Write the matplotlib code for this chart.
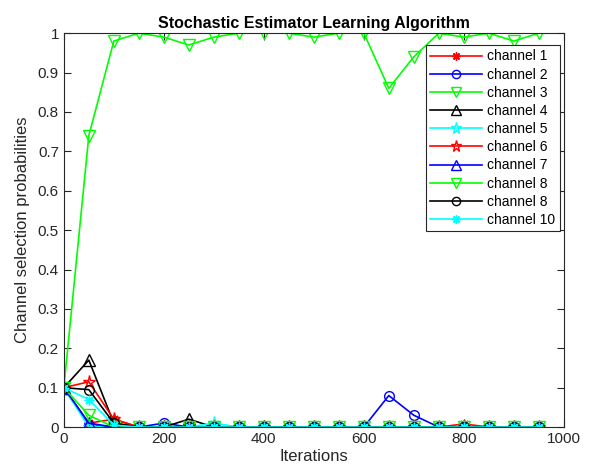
import numpy as np
import matplotlib
matplotlib.use("Agg")
from matplotlib import pyplot as plt

plt.rcParams['font.family'] = ['Liberation Sans', 'DejaVu Sans']

iterations = np.arange(0, 1000, 50)

ch1 = [0.1, 0.01, 0.02, 0, 0, 0, 0, 0, 0, 0, 0, 0, 0, 0, 0, 0, 0.008, 0, 0, 0]
ch2 = [0.1, 0.005, 0, 0, 0.01, 0, 0, 0, 0, 0, 0, 0, 0, 0.08, 0.03, 0, 0, 0, 0, 0]
ch3 = [0.1, 0.74, 0.98, 1.0, 0.99, 0.97, 0.99, 1.0, 1.0, 1.0, 0.99, 1.0, 1.0, 0.86, 0.94, 1.0, 0.99, 1.0, 0.98, 1.0]
ch4 = [0.1, 0.17, 0.01, 0, 0, 0.02, 0, 0, 0, 0, 0, 0, 0, 0, 0, 0, 0, 0, 0, 0]
ch5 = [0.1, 0.0, 0.005, 0, 0, 0, 0.01, 0, 0, 0, 0, 0, 0, 0, 0, 0, 0, 0, 0, 0]
ch6 = [0.1, 0.115, 0.02, 0, 0, 0, 0, 0, 0, 0, 0, 0, 0, 0, 0, 0, 0, 0, 0, 0]
ch7 = [0.1, 0.01, 0, 0, 0, 0, 0, 0, 0, 0, 0, 0, 0, 0, 0, 0, 0, 0, 0, 0]
ch8 = [0.1, 0.03, 0, 0, 0, 0, 0, 0, 0, 0, 0, 0, 0, 0, 0, 0, 0, 0, 0, 0]
ch9 = [0.1, 0.095, 0.01, 0, 0, 0, 0, 0, 0, 0, 0, 0, 0, 0, 0, 0, 0, 0, 0, 0]
ch10 = [0.1, 0.07, 0.005, 0, 0, 0, 0, 0, 0, 0, 0, 0, 0, 0, 0, 0, 0, 0, 0, 0]

labels = ['channel 1', 'channel 2', 'channel 3', 'channel 4', 'channel 5',
          'channel 6', 'channel 7', 'channel 8', 'channel 8', 'channel 10']
series = [ch1, ch2, ch3, ch4, ch5, ch6, ch7, ch8, ch9, ch10]
colors = ['#ff0000', '#0000ff', '#00ff00', '#000000', '#00ffff',
          '#ff0000', '#0000ff', '#00ff00', '#000000', '#00ffff']
# (8, 2, 0) is an eight-armed asterisk
markers = [(8, 2, 0), 'o', 'v', '^', '*', '*', '^', 'v', 'o', (8, 2, 0)]
sizes = [7, 7, 8.5, 8.5, 9.5, 9.5, 8.5, 8.5, 7, 7]

fig = plt.figure(figsize=(5.91, 4.74), dpi=100)
ax = fig.add_axes([0.108, 0.099, 0.846, 0.831])

for y, lab, c, m, s in zip(series, labels, colors, markers, sizes):
    ax.plot(iterations, y, color=c, marker=m, markersize=s, linewidth=1.2,
            markerfacecolor='none', markeredgecolor=c, markeredgewidth=1.0,
            label=lab)

ax.set_xlim(0, 1000)
ax.set_ylim(0, 1)
ax.set_xticks(np.arange(0, 1001, 200))
ax.set_yticks(np.arange(0, 1.01, 0.1))
ax.set_yticklabels(['0', '0.1', '0.2', '0.3', '0.4', '0.5', '0.6', '0.7', '0.8', '0.9', '1'])

axis_grey = '#262626'
for sp in ax.spines.values():
    sp.set_color(axis_grey)
    sp.set_linewidth(0.8)
ax.tick_params(direction='in', top=True, right=True, colors=axis_grey,
               labelsize=11, length=5, width=0.8)
for t in ax.get_xticklabels() + ax.get_yticklabels():
    t.set_color(axis_grey)

ax.set_xlabel('Iterations', fontsize=12, color=axis_grey, labelpad=2)
ax.set_ylabel('Channel selection probabilities', fontsize=12, color=axis_grey, labelpad=6)
ax.set_title('Stochastic Estimator Learning Algorithm', fontsize=11.5,
             fontweight='bold', pad=4)

leg = ax.legend(loc='upper right', bbox_to_anchor=(1.0, 0.98), fontsize=10,
                frameon=True, fancybox=False, framealpha=1, borderpad=0.3,
                handlelength=3.8, handletextpad=0.35, labelspacing=0.3,
                borderaxespad=0.3, markerscale=0.85)
leg.get_frame().set_edgecolor(axis_grey)
leg.get_frame().set_linewidth(0.8)

fig.savefig('out.png', dpi=100)
